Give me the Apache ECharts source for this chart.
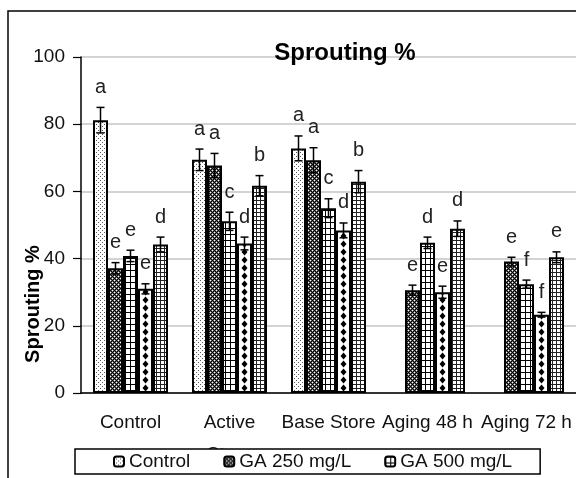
<!DOCTYPE html>
<html>
<head>
<meta charset="utf-8">
<script src="https://cdn.jsdelivr.net/npm/echarts@6/dist/echarts.min.js"></script>
<style>html,body{margin:0;padding:0;background:#fff;}#c{width:576px;height:478px;}</style>
</head>
<body>
<div id="c"></div>
<script>
const categories = ['Control', 'Active Store', 'Base Store', 'Aging 48 h', 'Aging 72 h'];
const seriesNames = ['Control', 'GA 250 mg/L', 'GA 500 mg/L', 'GA 750 mg/L', 'GA 1000 mg/L'];
const legendNames = ['Control', 'GA 250 mg/L', 'GA 500 mg/L'];
const yTicks = [0, 20, 40, 60, 80, 100];

const controlVals = [81.2, 69.4, 72.8, null, null];
const ga250Vals   = [37.1, 67.7, 69.3, 30.6, 39.1];
const ga500Vals   = [40.8, 51.1, 55.0, 44.7, 32.4];
const ga750Vals   = [31.0, 44.5, 48.4, 30.0, 23.3];
const ga1000Vals  = [44.2, 61.7, 62.9, 48.9, 40.4];

const controlErr = [3.8, 3.2, 3.7, null, null];
const ga250Err   = [1.7, 3.6, 3.7, 1.5, 1.3];
const ga500Err   = [1.7, 2.7, 2.8, 1.7, 1.2];
const ga750Err   = [1.5, 1.9, 2.2, 1.8, 0.7];
const ga1000Err  = [2.2, 3.0, 3.3, 2.3, 1.6];

const controlLet = ['a', 'a', 'a', '', ''];
const ga250Let   = ['e', 'a', 'a', 'e', 'e'];
const ga500Let   = ['e', 'c', 'c', 'd', 'f'];
const ga750Let   = ['e', 'd', 'd', 'e', 'f'];
const ga1000Let  = ['d', 'b', 'b', 'd', 'e'];

const allVals = [controlVals, ga250Vals, ga500Vals, ga750Vals, ga1000Vals];
const allErr = [controlErr, ga250Err, ga500Err, ga750Err, ga1000Err];
const allLet = [controlLet, ga250Let, ga500Let, ga750Let, ga1000Let];

const SANS = "'Liberation Sans', Arial, sans-serif";
const BAR_W = 15;

function tile(w, h, draw) {
  const c = document.createElement('canvas');
  c.width = w; c.height = h;
  const g = c.getContext('2d');
  g.fillStyle = '#fff';
  g.fillRect(0, 0, w, h);
  draw(g);
  return { image: c, repeat: 'repeat' };
}
const patterns = [
  tile(4, 4, g => { g.fillStyle = '#555'; g.fillRect(0, 0, 1, 1); g.fillRect(2, 2, 1, 1); }),
  tile(4, 4, g => {
    g.fillStyle = '#666'; g.fillRect(0, 0, 4, 4);
    g.fillStyle = '#000';
    [[0,0],[1,1],[2,2],[3,3],[1,3],[3,1]].forEach(p => g.fillRect(p[0], p[1], 1, 1));
    g.fillStyle = '#fff';
    [[2,0],[0,2]].forEach(p => g.fillRect(p[0], p[1], 1, 1));
  }),
  tile(5, 6, g => { g.fillStyle = '#000'; g.fillRect(0, 0, 5, 1); g.fillRect(0, 0, 1, 6); }),
  tile(11, 8, g => {
    g.fillStyle = '#000';
    [-8.5, 2.5, 13.5].forEach(cx => {
      g.beginPath();
      g.moveTo(cx, 0.5); g.lineTo(cx + 3, 4); g.lineTo(cx, 7.5); g.lineTo(cx - 3, 4);
      g.closePath(); g.fill();
    });
  }),
  tile(4, 4, g => { g.fillStyle = '#222'; g.fillRect(0, 0, 4, 1); g.fillRect(0, 0, 1, 4); })
];

const errData = [];
const errLetters = [];
allVals.forEach((vals, si) => {
  vals.forEach((v, ci) => {
    if (v !== null) {
      errData.push([ci, si, v, allErr[si][ci]]);
      errLetters.push(allLet[si][ci]);
    }
  });
});

const barSeries = seriesNames.map((name, si) => ({
  name: name,
  type: 'bar',
  data: allVals[si].map(v => v === null ? '-' : v),
  barWidth: BAR_W,
  barGap: '0%',
  itemStyle: { color: patterns[si], borderColor: '#000', borderWidth: 2 },
  emphasis: { disabled: true },
  z: 2
}));

const chart = echarts.init(document.getElementById('c'), null, { renderer: 'canvas' });
chart.setOption({
  animation: false,
  backgroundColor: '#fff',
  title: {
    text: 'Sprouting %',
    left: 340, top: 36, textAlign: 'center',
    textStyle: { fontFamily: SANS, fontSize: 24, fontWeight: 'bold', color: '#000' }
  },
  legend: {
    data: legendNames,
    left: 75, top: 449,
    padding: [3, 28, 3, 38],
    itemGap: 33,
    itemWidth: 10, itemHeight: 10,
    borderColor: '#000', borderWidth: 1.5,
    backgroundColor: '#fff',
    selectedMode: false,
    textStyle: { fontFamily: SANS, fontSize: 19, color: '#111' }
  },
  grid: { left: 81, right: 0, top: 57, bottom: 85 },
  xAxis: {
    type: 'category',
    data: categories,
    axisLine: { lineStyle: { color: '#000', width: 1.5 } },
    axisTick: { length: 6, lineStyle: { color: '#000', width: 1.2 } },
    axisLabel: {
      interval: 0, margin: 14,
      fontFamily: SANS, fontSize: 19, lineHeight: 32, color: '#111',
      formatter: v => v === 'Active Store' ? 'Active\nStore' : v
    }
  },
  yAxis: {
    type: 'value',
    min: yTicks[0], max: yTicks[yTicks.length - 1], interval: 20,
    axisLine: { show: true, lineStyle: { color: '#000', width: 1.5 } },
    axisTick: { show: true, length: 8, lineStyle: { color: '#000', width: 1.2 } },
    axisLabel: { margin: 16, fontFamily: SANS, fontSize: 19, color: '#111' },
    splitLine: { lineStyle: { color: '#c4c4c4', width: 1.5 } }
  },
  graphic: [
    {
      type: 'polyline', silent: true, z: 10,
      shape: { points: [[8, 478], [8, 11], [576, 11]] },
      style: { stroke: '#000', lineWidth: 1.5, fill: null }
    },
    {
      type: 'text', silent: true, z: 10,
      x: 33, y: 304, rotation: Math.PI / 2,
      style: {
        text: 'Sprouting %', fontFamily: SANS, fontSize: 20, fontWeight: 'bold',
        fill: '#000', align: 'center', verticalAlign: 'middle'
      }
    }
  ],
  series: barSeries.concat([{
    type: 'custom',
    name: 'err',
    data: errData,
    encode: { x: 0, y: 2 },
    z: 5,
    silent: true,
    renderItem: function (params, api) {
      const ci = api.value(0), si = api.value(1), v = api.value(2), e = api.value(3);
      const base = api.coord([ci, v]);
      const x = base[0] + (si - 2) * BAR_W;
      const yTop = api.coord([ci, v + e])[1];
      const yBot = api.coord([ci, v - e])[1];
      const ls = { stroke: '#000', lineWidth: 1.5 };
      return {
        type: 'group',
        children: [
          { type: 'line', shape: { x1: x, y1: yTop, x2: x, y2: yBot }, style: ls },
          { type: 'line', shape: { x1: x - 4, y1: yTop, x2: x + 4, y2: yTop }, style: ls },
          { type: 'line', shape: { x1: x - 4, y1: yBot, x2: x + 4, y2: yBot }, style: ls },
          {
            type: 'text', x: x, y: yTop - 10,
            style: {
              text: errLetters[params.dataIndex], fontFamily: SANS, fontSize: 20,
              fill: '#222', align: 'center', verticalAlign: 'bottom'
            }
          }
        ]
      };
    }
  }])
});
</script>
</body>
</html>
